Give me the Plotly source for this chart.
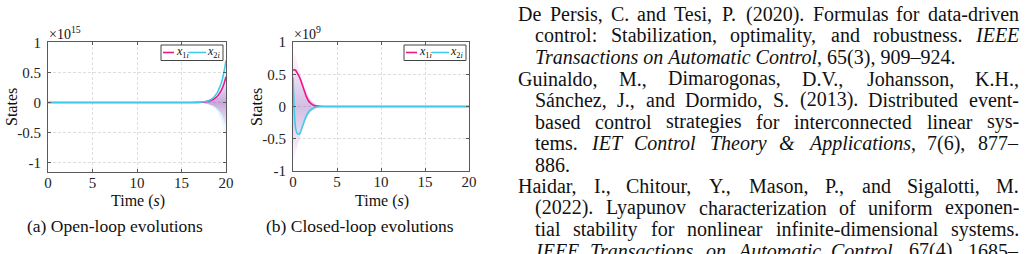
import plotly.graph_objects as go

W, H = 1026, 254
FONT = "Liberation Serif, Times New Roman, serif"
PINK = "#f0148c"
CYAN = "#40cbec"

# ---------------- data: (a) open-loop ----------------
t_a = [0, 16, 17, 17.5, 18, 18.5, 19, 19.25, 19.5, 19.75, 20]
x1_a = [0, 0, 0.003, 0.008, 0.02, 0.045, 0.10, 0.145, 0.21, 0.30, 0.43]
x2_a = [0, 0, 0.005, 0.012, 0.03, 0.07, 0.16, 0.24, 0.34, 0.49, 0.70]
fan_a_t = [16.5, 17, 17.5, 18, 18.5, 19, 19.5, 20]
fan_a_pink_up = [0, 0.003, 0.008, 0.018, 0.04, 0.08, 0.16, 0.32]
fan_a_pink_lo = [0, -0.004, -0.01, -0.025, -0.05, -0.1, -0.19, -0.38]
fan_a_blue_up = [0, 0.004, 0.01, 0.025, 0.06, 0.13, 0.28, 0.55]
fan_a_blue_lo = [0, -0.006, -0.015, -0.035, -0.07, -0.14, -0.3, -0.62]

# ---------------- data: (b) closed-loop ----------------
t_b = [0, 0.1, 0.2, 0.3, 0.45, 0.6, 0.75, 0.9, 1.1, 1.3, 1.5, 1.75, 2.0, 2.25, 2.5, 3.0, 3.5, 4.0, 20]
x1_b = [0.56, 0.57, 0.57, 0.56, 0.53, 0.49, 0.45, 0.40, 0.32, 0.24, 0.16, 0.09, 0.05, 0.025, 0.012, 0.004, 0.001, 0, 0]
x2_b = [0.45, 0.10, -0.20, -0.34, -0.41, -0.43, -0.42, -0.38, -0.30, -0.22, -0.15, -0.09, -0.05, -0.03, -0.015, -0.005, -0.001, 0, 0]
fan_b_t = [0, 0.25, 0.5, 0.75, 1.0, 1.5, 2.0, 2.5, 3.0, 3.5, 4.0]
fan_b_pink_up = [0.85, 0.80, 0.68, 0.55, 0.42, 0.22, 0.10, 0.04, 0.015, 0.005, 0]
fan_b_pink_lo = [-0.85, -0.74, -0.62, -0.49, -0.37, -0.19, -0.08, -0.03, -0.01, -0.003, 0]
fan_b_blue_up = [0.62, 0.62, 0.56, 0.46, 0.36, 0.18, 0.08, 0.03, 0.01, 0.003, 0]
fan_b_blue_lo = [-0.55, -0.62, -0.58, -0.48, -0.38, -0.20, -0.09, -0.035, -0.012, -0.004, 0]

x_ticks = [0, 5, 10, 15, 20]
y_ticks = [-1, -0.5, 0, 0.5, 1]
y_ticktext = ["-1", "-0.5", "0", "0.5", "1"]
legend_names = ["<i>x</i><sub>1<i>i</i></sub>", "<i>x</i><sub>2<i>i</i></sub>"]
captions = ["(a) Open-loop evolutions", "(b) Closed-loop evolutions"]
exponents = ["×10<sup>15</sup>", "×10<sup>9</sup>"]

# ---------------- bibliography text ----------------
ref_lines = [
    "De Persis, C. and Tesi, P. (2020). Formulas for data-driven",
    "control: Stabilization, optimality, and robustness. <i>IEEE</i>",
    "<i>Transactions on Automatic Control</i>, 65(3), 909–924.",
    "Guinaldo, M., Dimarogonas, D.V., Johansson, K.H.,",
    "Sánchez, J., and Dormido, S. (2013). Distributed event-",
    "based control strategies for interconnected linear sys-",
    "tems. <i>IET Control Theory & Applications</i>, 7(6), 877–",
    "886.",
    "Haidar, I., Chitour, Y., Mason, P., and Sigalotti, M.",
    "(2022). Lyapunov characterization of uniform exponen-",
    "tial stability for nonlinear infinite-dimensional systems.",
    "<i>IEEE Transactions on Automatic Control</i>, 67(4), 1685–",
]
ref_indent = [0, 1, 1, 0, 1, 1, 1, 1, 0, 1, 1, 1]
ref_justify = [1, 1, 0, 1, 1, 1, 1, 0, 1, 1, 1, 1]

# Times-compatible advance widths (1/1000 em)
ROMAN = {' ': 250, 'a': 444, 'b': 500, 'c': 444, 'd': 500, 'e': 444, 'f': 333, 'g': 500, 'h': 500,
         'i': 278, 'j': 278, 'k': 500, 'l': 278, 'm': 778, 'n': 500, 'o': 500, 'p': 500, 'q': 500,
         'r': 333, 's': 389, 't': 278, 'u': 500, 'v': 500, 'w': 722, 'x': 500, 'y': 500, 'z': 444,
         'A': 722, 'B': 667, 'C': 667, 'D': 722, 'E': 611, 'F': 556, 'G': 722, 'H': 722, 'I': 333,
         'J': 389, 'K': 722, 'L': 611, 'M': 889, 'N': 722, 'O': 722, 'P': 556, 'Q': 722, 'R': 667,
         'S': 556, 'T': 611, 'U': 722, 'V': 722, 'W': 944, 'X': 722, 'Y': 722, 'Z': 611,
         ',': 250, '.': 250, '(': 333, ')': 333, '-': 333, ':': 278, ';': 278, '–': 500, '&': 778,
         'á': 444}
ITALIC = {' ': 250, 'a': 500, 'b': 500, 'c': 444, 'd': 500, 'e': 444, 'f': 278, 'g': 500, 'h': 500,
          'i': 278, 'j': 278, 'k': 444, 'l': 278, 'm': 722, 'n': 500, 'o': 500, 'p': 500, 'q': 500,
          'r': 389, 's': 389, 't': 278, 'u': 500, 'v': 444, 'w': 667, 'x': 444, 'y': 444, 'z': 389,
          'A': 611, 'C': 667, 'E': 611, 'I': 333, 'T': 556, 'S': 500, 'P': 611, 'R': 611, '&': 778}

REF_SIZE = 20
REF_LEFT, REF_INDENT_X, REF_RIGHT = 518, 535, 1019
REF_Y0, REF_DY = 14, 21.5


def px(x):
    return x / W


def py(y):
    return 1 - y / H


def parse_words(line):
    chars, ital, i = [], False, 0
    while i < len(line):
        if line.startswith("<i>", i):
            ital = True; i += 3; continue
        if line.startswith("</i>", i):
            ital = False; i += 4; continue
        chars.append((line[i], ital)); i += 1
    words, cur = [], []
    for c, it in chars:
        if c == " ":
            if cur:
                words.append(cur); cur = []
        else:
            cur.append((c, it))
    if cur:
        words.append(cur)
    return words


def word_width(w, size):
    tot = 0
    for c, it in w:
        if c.isdigit():
            tot += 500
        else:
            tot += (ITALIC if it else ROMAN).get(c, 500)
    return tot * size / 1000


def esc(s):
    return s.replace("&", "&amp;")


def word_html(w):
    out, cur, cur_it = "", "", None
    for c, it in w:
        if cur_it is None or it == cur_it:
            cur += c; cur_it = it
        else:
            out += ("<i>%s</i>" % esc(cur)) if cur_it else esc(cur)
            cur, cur_it = c, it
    if cur:
        out += ("<i>%s</i>" % esc(cur)) if cur_it else esc(cur)
    return out


fig = go.Figure()


def add_fan(t, up, lo, rgb, amax, span, xa, ya):
    fig.add_trace(go.Scatter(
        x=list(t) + list(t)[::-1], y=list(up) + list(lo)[::-1],
        xaxis=xa, yaxis=ya, mode="lines", line=dict(width=0, shape="spline"),
        fill="toself",
        fillgradient=dict(type="vertical",
                          colorscale=[[0, "rgba(%s,0.03)" % rgb], [0.5, "rgba(%s,%s)" % (rgb, amax)],
                                      [1, "rgba(%s,0.03)" % rgb]],
                          start=-span, stop=span),
        hoverinfo="skip", showlegend=False))


add_fan(fan_a_t, fan_a_blue_up, fan_a_blue_lo, "60,200,234", 0.25, 0.6, "x", "y")
add_fan(fan_a_t, fan_a_pink_up, fan_a_pink_lo, "200,30,160", 0.35, 0.4, "x", "y")
add_fan(fan_b_t, fan_b_blue_up, fan_b_blue_lo, "60,200,234", 0.2, 0.65, "x2", "y2")
add_fan(fan_b_t, fan_b_pink_up, fan_b_pink_lo, "200,30,160", 0.25, 0.85, "x2", "y2")

for t, a, b, xa, ya in [(t_a, x1_a, x2_a, "x", "y"), (t_b, x1_b, x2_b, "x2", "y2")]:
    fig.add_trace(go.Scatter(x=t, y=a, xaxis=xa, yaxis=ya, mode="lines",
                             line=dict(color=PINK, width=1.6, shape="spline", smoothing=0.6),
                             name=legend_names[0], showlegend=False))
    fig.add_trace(go.Scatter(x=t, y=b, xaxis=xa, yaxis=ya, mode="lines",
                             line=dict(color=CYAN, width=1.6, shape="spline", smoothing=0.6),
                             name=legend_names[1], showlegend=False))

panels = [dict(L=48, R=226, T=42, B=172, yr=[-1.16, 1.01]),
          dict(L=293, R=469, T=42, B=171, yr=[-1.0, 1.0])]

axis_common = dict(showline=True, linecolor="#5a5a5a", linewidth=1, mirror="ticks",
                   ticks="inside", ticklen=3, tickcolor="#5a5a5a",
                   showgrid=True, gridcolor="#dedede", griddash="3px,2px", gridwidth=1,
                   zeroline=False, automargin=False,
                   tickfont=dict(family=FONT, size=15, color="#222"))

lay = {}
for i, p in enumerate(panels):
    sx = "" if i == 0 else "2"
    lay["xaxis" + sx] = dict(axis_common, domain=[px(p["L"]), px(p["R"])], range=[0, 20],
                             tickvals=x_ticks, anchor="y" + sx, ticklabelstandoff=-3)
    lay["yaxis" + sx] = dict(axis_common, domain=[py(p["B"]), py(p["T"])], range=p["yr"],
                             tickvals=y_ticks, ticktext=y_ticktext, anchor="x" + sx,
                             ticklabelstandoff=3)

fig.update_layout(width=W, height=H, margin=dict(l=0, r=0, t=0, b=0, autoexpand=False),
                  paper_bgcolor="white", plot_bgcolor="white", showlegend=False,
                  font=dict(family=FONT, color="#222"), **lay)

ann = []
shapes = []


def text(x, y, s, size, anchor="center", angle=None):
    d = dict(x=px(x), y=py(y), xref="paper", yref="paper", text=s, showarrow=False,
             xanchor=anchor, yanchor="middle", borderpad=0, borderwidth=0,
             font=dict(family=FONT, size=size, color="#111"))
    if angle is not None:
        d["textangle"] = angle
    ann.append(d)


ytitle_x = [12, 257]
for i, p in enumerate(panels):
    cx = (p["L"] + p["R"]) / 2
    text(ytitle_x[i], 107, "States", 16, angle=-90)
    text(cx + 0.5, 200.5, "Time (<i>s</i>)", 16)
    text(cx - 22 if i == 0 else cx - 21, 225.5, captions[i], 17.5)
    text(p["L"] + 1, 33, exponents[i], 14, anchor="left")
    L = p["R"] - 65
    shapes.append(dict(type="rect", xref="paper", yref="paper", x0=px(L), x1=px(p["R"] - 3),
                       y0=py(60.5), y1=py(45), line=dict(color="#444", width=1), fillcolor="white"))
    shapes.append(dict(type="line", xref="paper", yref="paper", x0=px(L + 2), x1=px(L + 13),
                       y0=py(52.5), y1=py(52.5), line=dict(color=PINK, width=1.6)))
    shapes.append(dict(type="line", xref="paper", yref="paper", x0=px(L + 28), x1=px(L + 45),
                       y0=py(52.5), y1=py(52.5), line=dict(color=CYAN, width=1.6)))
    text(L + 14.5, 52, legend_names[0], 12, anchor="left")
    text(L + 46, 52, legend_names[1], 12, anchor="left")

for k, line in enumerate(ref_lines):
    y = REF_Y0 + REF_DY * k
    left = REF_INDENT_X if ref_indent[k] else REF_LEFT
    words = parse_words(line)
    if not ref_justify[k] or len(words) < 2:
        text(left, y, " ".join(word_html(w) for w in words), REF_SIZE, anchor="left")
        continue
    widths = [word_width(w, REF_SIZE) for w in words]
    gap = (REF_RIGHT - left - sum(widths)) / (len(words) - 1)
    x = left
    for j, w in enumerate(words):
        if j == len(words) - 1:
            text(REF_RIGHT, y, word_html(w), REF_SIZE, anchor="right")
        else:
            text(x, y, word_html(w), REF_SIZE, anchor="left")
        x += widths[j] + gap

fig.update_layout(annotations=ann, shapes=shapes)
fig.write_html("out.html")
